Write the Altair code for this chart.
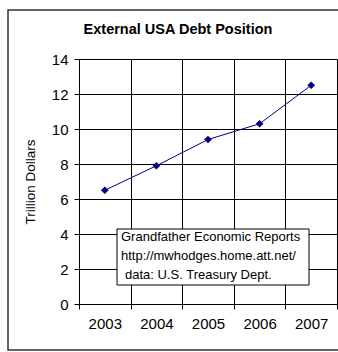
import altair as alt
import pandas as pd

years = ["2003", "2004", "2005", "2006", "2007"]
debt = [6.5, 7.9, 9.4, 10.3, 12.5]
y_ticks = [0, 2, 4, 6, 8, 10, 12, 14]
note_lines = ["Grandfather Economic Reports", "http://mwhodges.home.att.net/"]
note_source = "data: U.S. Treasury Dept."
title_text = "External USA Debt Position"
y_title = "Trillion Dollars"

df = pd.DataFrame({"year": years, "debt": debt})
one = pd.DataFrame({"k": [0]})

W, H = 258, 245
SANS = "Liberation Sans, Arial, sans-serif"

x_enc = alt.X(
    "year:N", sort=years, bandPosition=0.5,
    scale=alt.Scale(type="band", paddingInner=0, paddingOuter=0),
    axis=alt.Axis(
        title=None, tickBand="extent", grid=True, gridColor="black", gridWidth=1,
        domainColor="black", tickColor="black", tickSize=5, labelAngle=0,
        labelFont=SANS, labelFontSize=15, labelColor="black", labelPadding=7,
    ),
)
y_enc = alt.Y(
    "debt:Q", scale=alt.Scale(domain=[0, 14], nice=False),
    axis=alt.Axis(
        values=y_ticks, title=y_title, grid=True, gridColor="black", gridWidth=1,
        domainColor="black", tickColor="black", tickSize=5, labelPadding=6,
        labelFont=SANS, labelFontSize=15, labelColor="black",
        titleFont=SANS, titleFontSize=13.5, titleFontWeight="normal", titleColor="black",
        titlePadding=14,
    ),
)

frame = alt.Chart(one).mark_rect(fillOpacity=0, stroke="#333333", strokeWidth=1.5).encode(
    x=alt.value(-71), x2=alt.value(275), y=alt.value(-49), y2=alt.value(291)
)
title = alt.Chart(one).mark_text(
    align="center", baseline="middle", font=SANS, fontSize=14.5, fontWeight="bold", color="black", text=title_text
).encode(x=alt.value(99), y=alt.value(-29))
line = alt.Chart(df).mark_line(color="#000080", strokeWidth=1).encode(x=x_enc, y=y_enc)
pts = alt.Chart(df).mark_point(shape="diamond", filled=True, size=60, color="#000080", opacity=1).encode(
    x=x_enc, y=y_enc
)
box = alt.Chart(one).mark_rect(fill="white", stroke="black", strokeWidth=1).encode(
    x=alt.value(38), x2=alt.value(230), y=alt.value(170), y2=alt.value(226)
)
note = alt.Chart(one).mark_text(
    align="left", baseline="top", font=SANS, fontSize=13, lineHeight=19, color="black", text=note_lines
).encode(x=alt.value(42), y=alt.value(172))
note2 = alt.Chart(one).mark_text(
    align="left", baseline="top", font=SANS, fontSize=13, color="black", text=note_source
).encode(x=alt.value(46), y=alt.value(210))

chart = alt.layer(frame, title, line, pts, box, note, note2).properties(
    width=W, height=H,
    padding={"left": 79, "top": 59, "right": 1, "bottom": 48},
    autosize="none",
).configure_view(fill="#DCE6DC", stroke="black", strokeWidth=1).configure(background="white")

chart.save("out.html", embed_options={"renderer": "svg", "actions": False})
